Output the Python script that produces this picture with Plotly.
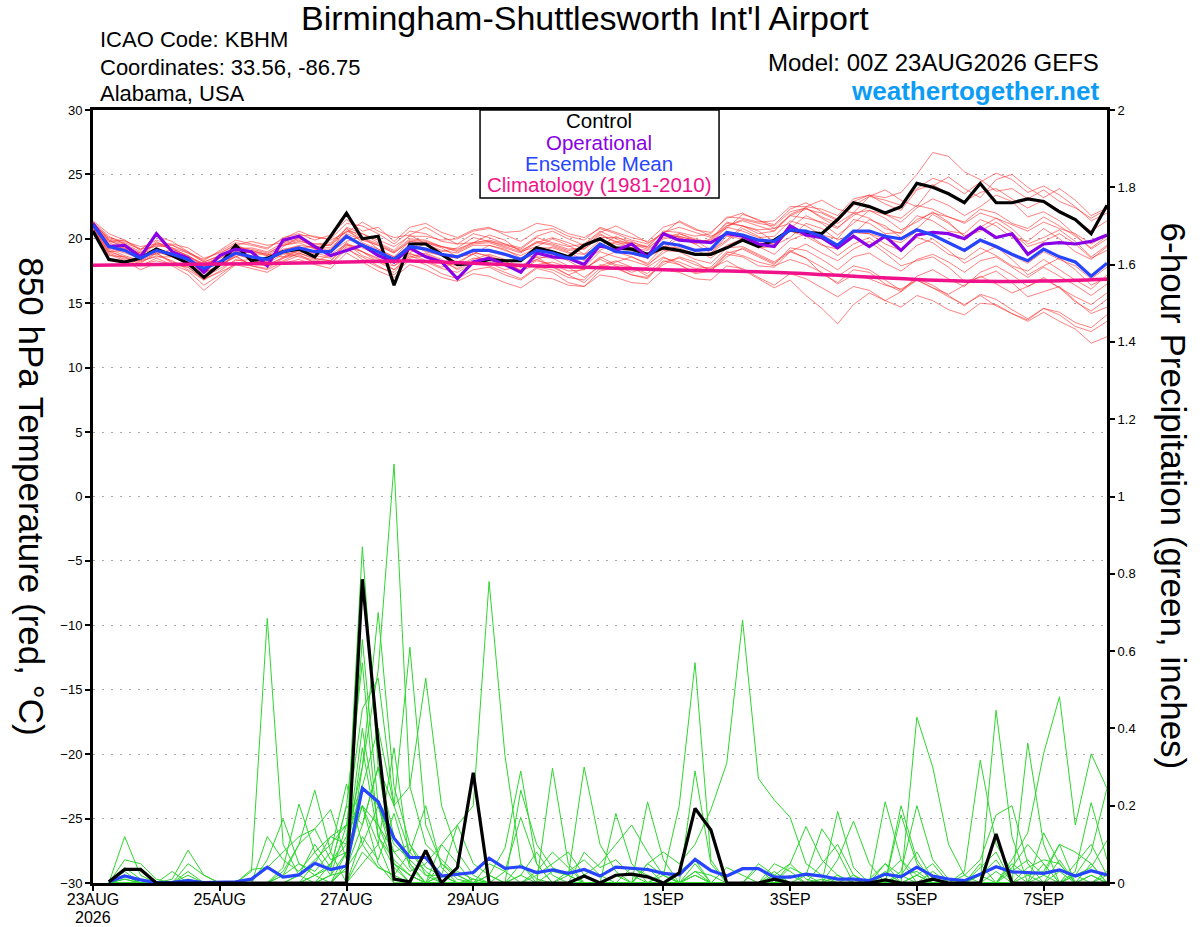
import plotly.graph_objects as go
import pandas as pd

# ---------------- time axes ----------------
times_t = pd.date_range("2026-08-23 00:00", periods=65, freq="6h")   # temperature (00Z .. +384h)
times_p = times_t[1:]                                                 # 6-h precipitation (06Z .. +384h)
clim_dates = pd.date_range("2026-08-23", periods=17, freq="D")

tick_dates = ["2026-08-23", "2026-08-25", "2026-08-27", "2026-08-29",
              "2026-09-01", "2026-09-03", "2026-09-05", "2026-09-07"]
tick_labels = ["23AUG", "25AUG", "27AUG", "29AUG", "1SEP", "3SEP", "5SEP", "7SEP"]
year_label = "2026"

# ---------------- 850 hPa temperature (deg C) ----------------
control_t = [20.6, 18.4, 18.2, 18.5, 19.2, 18.7, 18.1, 17.0, 18.0, 19.5, 18.3,
             18.5, 19.0, 19.2, 18.6, 20.2, 22.0, 20.0, 20.2, 16.4, 19.6,
             19.6, 18.8, 18.0, 18.1, 18.4, 18.3, 18.3, 19.3, 19.0, 18.6,
             19.5, 20.0, 19.3, 19.2, 18.8, 19.3, 19.1, 18.8, 18.8, 19.3,
             19.9, 19.4, 19.9, 20.7, 20.5, 20.4, 21.5, 22.8, 22.5, 22.0,
             22.5, 24.3, 24.0, 23.5, 22.8, 24.3, 22.8, 22.8, 23.1, 22.9,
             22.1, 21.5, 20.4, 22.6]

operational_t = [21.2, 19.4, 19.5, 18.6, 20.4, 19.0, 18.5, 17.4, 18.7, 19.2, 19.0,
                 17.9, 19.9, 20.2, 19.4, 18.7, 19.1, 19.5, 18.7, 18.2, 19.3,
                 18.6, 18.2, 16.9, 18.2, 18.5, 18.0, 17.4, 18.9, 18.6, 18.5,
                 18.0, 19.5, 19.1, 19.6, 18.6, 20.4, 19.9, 19.8, 19.7, 20.4,
                 20.2, 19.6, 19.4, 21.0, 20.3, 20.1, 19.3, 20.2, 19.4, 20.2,
                 19.1, 20.3, 20.5, 20.4, 20.0, 20.9, 20.1, 20.4, 18.8, 19.6,
                 19.7, 19.6, 19.8, 20.3]

mean_t = [21.1, 19.4, 19.1, 18.5, 19.1, 18.8, 18.4, 17.7, 18.2, 18.9, 18.6,
          18.4, 19.0, 19.3, 19.0, 19.0, 20.2, 19.5, 19.0, 18.4, 19.4,
          19.2, 18.8, 18.6, 19.1, 19.1, 18.8, 18.4, 19.1, 18.9, 18.5,
          18.5, 19.6, 19.0, 18.9, 18.6, 19.7, 19.5, 19.1, 19.2, 20.5,
          20.3, 19.9, 19.8, 20.7, 20.6, 20.2, 19.5, 20.6, 20.6, 20.2,
          20.0, 20.7, 20.3, 19.7, 19.1, 19.9, 19.4, 18.8, 18.3, 19.2,
          18.6, 18.2, 17.1, 18.1]

climatology_t = [17.95, 18.0, 18.05, 18.1, 18.2, 18.28, 18.1, 17.9, 17.75,
                 17.6, 17.5, 17.35, 17.1, 16.85, 16.7, 16.72, 16.86]

member_t01 = [21.0, 19.8, 19.5, 18.9, 19.6, 19.2, 18.7, 17.9, 18.6, 19.4, 19.0,
              18.8, 19.6, 19.9, 19.4, 19.5, 20.6, 20.0, 19.5, 18.9, 19.9,
              19.8, 19.4, 19.0, 19.6, 19.7, 19.3, 18.9, 19.7, 19.5, 19.1,
              19.2, 20.3, 19.8, 19.7, 19.4, 20.6, 20.5, 20.2, 20.4, 21.7,
              21.6, 21.3, 21.4, 22.5, 22.5, 22.3, 21.8, 23.1, 23.4, 23.2,
              23.6, 25.0, 26.7, 26.4, 25.2, 24.6, 23.7, 23.9, 23.1, 23.8,
              22.9, 22.4, 21.6, 22.3]
member_t02 = [20.8, 19.0, 18.6, 18.2, 18.7, 18.3, 17.6, 16.8, 17.5, 18.4, 18.1,
              17.9, 18.6, 18.9, 18.4, 18.3, 19.6, 19.0, 18.5, 17.6, 18.8,
              18.6, 18.2, 17.9, 18.5, 18.4, 18.0, 17.6, 18.3, 18.0, 17.5,
              17.6, 18.6, 18.0, 17.8, 17.3, 18.5, 18.2, 17.7, 17.8, 19.0,
              18.7, 18.2, 17.9, 18.4, 18.0, 17.4, 16.5, 17.2, 16.9, 16.4,
              16.1, 16.8, 16.2, 15.5, 14.9, 15.6, 14.8, 14.2, 13.6, 14.3,
              13.6, 13.0, 11.9, 12.4]
member_t03 = [21.3, 19.9, 19.6, 19.0, 19.5, 19.3, 18.9, 18.2, 18.7, 19.4, 19.2,
              18.9, 19.5, 19.8, 19.6, 19.7, 20.8, 20.1, 19.6, 19.0, 20.0,
              19.9, 19.4, 19.2, 19.7, 19.8, 19.4, 19.0, 19.8, 19.6, 19.2,
              19.3, 20.4, 19.7, 19.6, 19.2, 20.3, 20.2, 19.8, 19.9, 21.2,
              21.0, 20.7, 20.8, 21.8, 21.6, 21.3, 20.8, 22.0, 22.2, 21.9,
              21.6, 22.6, 22.3, 21.7, 21.2, 22.0, 21.6, 21.1, 20.6, 21.3,
              20.8, 20.4, 19.6, 20.3]
member_t04 = [20.9, 19.2, 18.7, 18.3, 18.9, 18.2, 17.9, 17.3, 18.0, 18.6, 18.0,
              18.3, 18.9, 18.6, 18.2, 18.8, 19.6, 18.7, 18.2, 17.9, 18.9,
              18.3, 17.8, 18.2, 18.8, 18.1, 17.6, 17.9, 18.6, 17.8, 17.2,
              17.7, 18.4, 17.9, 17.4, 17.8, 18.6, 18.0, 17.4, 17.7, 18.3,
              17.6, 16.9, 16.2, 16.8, 15.6, 14.6, 13.4, 14.9, 15.8, 15.2,
              15.9, 16.8, 16.2, 15.7, 16.4, 17.1, 16.5, 15.8, 16.3, 17.0,
              16.2, 15.5, 14.9, 15.8]
member_t05 = [21.2, 20.0, 19.7, 19.2, 19.9, 19.5, 18.9, 18.4, 19.0, 19.7, 19.5,
              19.2, 20.1, 20.4, 19.9, 20.3, 21.5, 20.6, 20.9, 19.8, 20.9,
              21.2, 20.5, 20.1, 20.7, 20.9, 20.3, 19.8, 20.6, 20.8, 20.2,
              19.9, 20.9, 20.5, 20.1, 19.8, 20.9, 21.3, 20.7, 20.5, 21.6,
              22.0, 21.4, 21.1, 22.3, 22.8, 22.1, 21.5, 22.9, 23.4, 22.7,
              22.2, 23.8, 24.2, 23.5, 22.9, 23.6, 23.9, 23.1, 22.4, 23.0,
              22.2, 21.5, 20.6, 21.4]
member_t06 = [20.7, 18.9, 18.4, 17.9, 18.5, 18.0, 17.5, 16.4, 17.2, 18.1, 17.9,
              17.6, 18.2, 18.7, 18.3, 18.0, 19.2, 18.6, 17.9, 17.2, 18.4,
              18.0, 17.3, 16.9, 17.6, 17.8, 17.2, 16.8, 17.7, 17.4, 16.6,
              16.3, 17.5, 17.8, 17.2, 16.9, 18.2, 18.5, 18.0, 17.6, 18.9,
              19.2, 18.6, 18.0, 19.3, 19.1, 18.4, 17.6, 18.6, 18.9, 18.1,
              17.5, 18.4, 18.8, 18.2, 17.4, 18.3, 18.6, 17.8, 17.0, 17.8,
              17.1, 16.4, 15.6, 16.5]
member_t07 = [21.0, 19.5, 19.3, 18.8, 18.8, 19.2, 18.7, 18.0, 17.9, 18.6, 19.1,
              18.8, 18.6, 19.2, 19.5, 19.0, 19.8, 20.2, 19.2, 18.6, 18.9,
              19.7, 19.3, 18.6, 18.8, 19.5, 19.2, 18.5, 18.7, 19.4, 19.0,
              18.3, 19.1, 19.8, 19.3, 18.6, 19.2, 20.1, 19.6, 18.9, 19.8,
              20.8, 20.2, 19.5, 20.1, 21.2, 20.8, 19.9, 20.4, 21.5, 21.0,
              20.1, 20.8, 21.9, 21.2, 20.2, 20.6, 21.3, 20.5, 19.4, 19.8,
              20.4, 19.6, 18.5, 19.1]
member_t08 = [21.1, 19.3, 18.9, 18.5, 19.0, 18.6, 18.1, 17.4, 17.9, 18.8, 18.4,
              18.1, 18.8, 19.0, 18.7, 18.5, 19.7, 19.0, 18.4, 18.2, 19.1,
              18.8, 18.3, 18.0, 18.9, 18.7, 18.2, 17.8, 18.6, 18.5, 17.9,
              17.8, 19.0, 18.6, 18.3, 17.9, 19.1, 19.0, 18.4, 18.1, 19.3,
              19.4, 18.8, 18.2, 19.1, 18.5, 17.8, 17.1, 17.9, 17.6, 16.8,
              16.0, 16.9, 16.4, 15.6, 14.8, 15.7, 15.3, 14.5, 13.8, 14.6,
              14.1, 13.2, 12.8, 13.6]
member_t09 = [21.3, 20.2, 19.6, 18.7, 19.8, 19.1, 18.3, 17.8, 18.8, 19.6, 18.9,
              18.2, 19.4, 20.1, 19.2, 19.0, 20.9, 20.4, 19.7, 19.1, 20.3,
              19.6, 19.0, 19.3, 20.1, 19.8, 19.5, 19.2, 20.1, 19.7, 19.4,
              19.6, 20.6, 20.0, 19.5, 19.4, 20.5, 20.1, 19.6, 20.0, 21.3,
              21.0, 20.4, 20.6, 21.9, 22.4, 21.6, 20.9, 21.8, 22.5, 21.9,
              21.3, 22.4, 23.1, 22.6, 21.8, 22.5, 23.4, 22.9, 21.7, 22.1,
              21.4, 20.3, 19.2, 20.0]
member_t10 = [20.8, 19.0, 19.1, 18.3, 18.6, 18.6, 18.2, 17.0, 17.7, 18.3, 18.4,
              18.0, 18.5, 19.1, 18.9, 18.6, 19.5, 19.4, 18.8, 17.9, 18.6,
              18.9, 18.4, 17.6, 18.2, 18.6, 18.3, 17.5, 18.0, 18.2, 17.8,
              17.0, 17.9, 18.3, 17.8, 17.1, 18.0, 18.6, 18.2, 17.5, 18.6,
              19.3, 18.7, 18.1, 19.0, 19.6, 18.9, 18.3, 19.2, 19.8, 18.9,
              17.9, 18.3, 18.6, 17.8, 16.7, 17.0, 17.5, 16.6, 15.5, 15.9,
              16.3, 15.2, 14.2, 14.7]
member_t11 = [21.4, 20.4, 19.9, 19.1, 20.2, 19.8, 19.0, 18.3, 19.1, 19.9, 19.6,
              19.3, 20.0, 20.6, 20.1, 20.0, 21.2, 21.0, 20.4, 19.6, 20.6,
              20.4, 19.8, 19.6, 20.4, 20.1, 19.6, 19.3, 20.2, 20.6, 20.0,
              19.5, 20.5, 21.0, 20.4, 19.7, 20.4, 21.4, 20.8, 20.2, 20.8,
              21.9, 21.5, 20.8, 21.2, 22.5, 23.0, 22.3, 22.0, 23.3, 23.8,
              23.0, 22.5, 24.1, 24.8, 23.9, 23.2, 24.6, 25.0, 24.0, 23.2,
              23.9, 23.0, 21.8, 22.4]
member_t12 = [21.0, 19.6, 19.0, 18.6, 19.3, 18.7, 18.5, 17.6, 18.3, 19.1, 18.5,
              18.5, 19.2, 19.4, 18.8, 19.2, 20.3, 19.3, 18.8, 18.5, 19.6,
              19.0, 18.7, 18.5, 19.0, 18.6, 18.0, 17.8, 18.4, 17.9, 17.2,
              16.6, 17.7, 18.2, 18.6, 18.1, 19.4, 19.3, 18.8, 18.9, 20.2,
              20.0, 19.3, 19.4, 20.6, 20.2, 19.5, 19.2, 20.5, 20.4, 19.6,
              19.1, 20.1, 19.7, 18.8, 18.4, 19.3, 18.7, 17.9, 17.5, 18.4,
              17.6, 16.8, 16.1, 17.2]
member_t13 = [21.2, 20.1, 19.8, 19.4, 19.6, 19.6, 19.3, 18.5, 18.9, 19.5, 19.8,
              19.5, 19.7, 20.3, 20.2, 19.9, 20.5, 21.3, 20.6, 20.1, 20.3,
              20.9, 20.2, 19.6, 19.7, 20.3, 19.9, 19.0, 19.4, 20.0, 19.5,
              18.8, 19.4, 20.2, 19.6, 18.8, 19.3, 20.4, 19.9, 19.1, 19.9,
              21.0, 20.6, 19.8, 20.8, 21.8, 21.2, 20.3, 21.2, 22.2, 21.6,
              20.7, 21.3, 22.1, 21.3, 20.2, 20.9, 21.6, 20.8, 19.6, 20.1,
              20.7, 19.8, 18.6, 19.5]
member_t14 = [20.6, 18.7, 18.6, 18.0, 18.3, 18.0, 17.8, 16.9, 17.4, 18.0, 17.7,
              17.4, 18.1, 18.4, 18.0, 17.7, 18.9, 18.2, 17.5, 17.0, 18.0,
              17.6, 17.0, 16.7, 17.3, 17.1, 16.6, 16.2, 17.0, 16.9, 16.4,
              16.3, 17.2, 17.0, 16.6, 16.5, 17.6, 17.4, 16.9, 16.8, 17.9,
              17.7, 17.0, 16.4, 17.3, 16.9, 16.2, 15.5, 16.3, 16.0, 15.2,
              14.7, 15.6, 15.2, 14.5, 14.1, 15.0, 14.9, 14.2, 13.7, 14.6,
              14.3, 13.5, 13.1, 14.1]
member_t15 = [21.1, 19.4, 19.2, 18.4, 19.0, 18.9, 18.3, 17.6, 18.3, 18.9, 18.7,
              18.3, 18.9, 19.3, 19.0, 18.9, 20.2, 19.6, 18.9, 18.3, 19.4,
              19.1, 18.7, 18.5, 19.1, 19.0, 18.7, 18.4, 19.1, 18.9, 18.6,
              18.5, 19.6, 19.1, 18.8, 18.5, 19.6, 19.5, 19.1, 19.2, 20.4,
              20.2, 19.8, 19.6, 20.6, 20.4, 20.0, 19.4, 20.5, 20.4, 20.0,
              19.7, 20.6, 20.3, 19.7, 19.0, 19.8, 19.3, 18.7, 18.1, 19.0,
              18.4, 17.9, 16.9, 17.8]
member_t16 = [21.0, 19.7, 19.2, 18.9, 19.2, 18.9, 18.6, 18.1, 18.5, 19.0, 18.9,
              18.7, 19.1, 19.5, 19.3, 19.3, 20.4, 19.9, 19.5, 18.9, 19.8,
              19.6, 19.1, 18.9, 19.5, 19.5, 19.1, 18.7, 19.3, 19.3, 18.9,
              18.8, 19.9, 19.6, 19.3, 19.1, 20.0, 20.2, 19.9, 19.8, 21.0,
              21.4, 21.0, 20.6, 21.8, 22.3, 22.0, 21.4, 22.6, 23.3, 23.0,
              22.6, 23.9, 24.7, 24.3, 23.5, 24.4, 25.1, 24.6, 23.6, 24.1,
              23.4, 22.5, 21.4, 22.0]
member_t17 = [20.9, 19.1, 18.5, 18.1, 18.9, 18.1, 17.8, 16.8, 17.9, 18.7, 17.9,
              17.7, 18.5, 18.8, 18.1, 18.1, 19.3, 18.4, 17.8, 17.4, 18.7,
              18.2, 17.7, 17.4, 18.1, 17.9, 17.4, 16.9, 17.8, 17.6, 17.0,
              16.8, 18.0, 17.7, 17.2, 17.0, 18.3, 18.0, 17.3, 17.5, 18.8,
              18.6, 17.9, 17.8, 19.0, 18.5, 17.3, 16.6, 17.6, 17.4, 16.5,
              15.9, 17.1, 17.6, 16.9, 16.3, 17.4, 17.9, 17.2, 16.3, 16.9,
              16.2, 15.1, 14.4, 15.3]
member_t18 = [21.3, 19.9, 19.3, 18.6, 19.7, 19.3, 18.6, 17.9, 18.5, 19.3, 19.1,
              18.7, 19.5, 19.7, 19.2, 19.6, 20.8, 19.7, 19.2, 18.6, 19.8,
              19.7, 19.4, 19.1, 19.7, 19.9, 19.6, 19.1, 19.7, 20.1, 19.7,
              19.2, 20.1, 20.1, 19.8, 19.3, 20.1, 20.4, 20.0, 19.7, 20.9,
              20.6, 20.1, 20.2, 21.4, 21.0, 20.3, 20.0, 21.5, 21.2, 20.4,
              20.5, 21.8, 21.4, 20.6, 20.4, 21.5, 21.0, 20.1, 19.8, 20.8,
              20.0, 19.0, 18.4, 19.4]
member_t19 = [20.7, 18.8, 18.3, 17.6, 18.1, 17.9, 17.2, 16.0, 17.0, 18.0, 18.2,
              17.9, 18.3, 18.9, 18.5, 18.3, 19.4, 19.0, 18.2, 17.6, 18.5,
              18.7, 18.2, 17.7, 18.4, 18.8, 18.4, 17.8, 18.4, 18.8, 18.3,
              17.6, 18.5, 19.0, 18.6, 18.0, 18.9, 19.6, 19.2, 18.5, 19.5,
              20.0, 19.4, 18.8, 19.9, 20.4, 19.6, 18.7, 19.6, 20.1, 19.2,
              18.4, 19.5, 20.0, 19.1, 18.1, 18.8, 19.4, 18.4, 17.2, 17.9,
              18.5, 17.6, 16.4, 17.0]
member_t20 = [21.2, 19.8, 19.9, 19.2, 19.4, 19.5, 19.0, 18.2, 18.7, 19.2, 19.3,
              19.0, 19.7, 20.0, 19.6, 19.5, 20.6, 20.4, 19.9, 19.4, 20.2,
              20.2, 19.9, 20.0, 20.6, 20.8, 20.5, 20.6, 21.2, 21.0, 20.4,
              20.1, 20.8, 20.4, 19.9, 19.6, 20.5, 20.9, 20.5, 20.1, 21.0,
              21.5, 21.2, 21.0, 22.1, 22.4, 21.7, 21.2, 22.0, 21.6, 20.8,
              20.4, 21.5, 22.0, 21.7, 21.3, 22.3, 22.0, 21.2, 20.8, 21.7,
              21.0, 20.2, 19.3, 20.2]

members_t = [member_t01, member_t02, member_t03, member_t04, member_t05,
             member_t06, member_t07, member_t08, member_t09, member_t10,
             member_t11, member_t12, member_t13, member_t14, member_t15,
             member_t16, member_t17, member_t18, member_t19, member_t20]

# ---------------- 6-hour precipitation (inches) ----------------
control_p = [.003, .035, .035, 0, 0, 0, 0, 0,
             0, 0, 0, 0, 0, 0, 0, 0,
             .786, .36, .01, .003, .084, 0, .04, .285,
             0, 0, 0, 0, 0, 0, .018, 0,
             .02, .023, .016, 0, .026, .193, .137, 0,
             0, 0, .01, 0, 0, 0, 0, 0,
             0, .008, 0, 0, .01, 0, 0, 0,
             .127, 0, 0, 0, 0, 0, 0, 0]

mean_p = [.003, .018, .008, .001, .002, .006, .001, .001,
          .003, .01, .041, .015, .021, .051, .035, .044,
          .245, .21, .116, .066, .066, .018, .023, .027,
          .064, .038, .042, .027, .034, .025, .035, .018,
          .041, .037, .035, .025, .021, .061, .032, .018,
          .037, .037, .015, .015, .023, .018, .01, .01,
          .006, .023, .016, .041, .018, .01, .006, .023,
          .042, .029, .027, .025, .034, .018, .032, .021]

member_p01 = [0, .12, .02, 0, 0, 0, 0, 0,   0, 0, 0, 0, 0, .02, .05, .1,
              .87, .3, .05, .02, 0, 0, .03, .01,   0, 0, .05, .01, 0, 0, 0, 0,
              0, 0, 0, .02, 0, .05, 0, 0,   0, 0, 0, 0, 0, .01, 0, 0,
              0, 0, .02, .08, .01, 0, 0, 0,   0, 0, .02, .03, .1, 0, 0, 0]
member_p02 = [0, .06, .05, .01, 0, 0, 0, 0,   0, 0, 0, .03, .1, .14, .06, .08,
              .63, .2, .08, .1, .02, 0, 0, 0,   .02, .09, .29, .05, 0, 0, 0, 0,
              0, 0, 0, 0, 0, .03, 0, 0,   0, 0, .02, .05, .01, 0, 0, 0,
              0, 0, 0, 0, 0, 0, .02, .06,   .176, .2, .05, 0, 0, .02, .04, .11]
member_p03 = [0, .04, .01, 0, 0, 0, 0, 0,   0, 0, 0, 0, 0, .02, .04, .2,
              .57, .12, .04, 0, 0, .02, 0, 0,   0, 0, 0, 0, 0, .03, .06, .02,
              0, 0, .05, .08, .05, .1, .19, .31,   .68, .27, .215, .17, .05, .02, 0, 0,
              0, 0, 0, .02, 0, 0, 0, 0,   0, .03, .06, .02, 0, 0, 0, .02]
member_p04 = [0, .02, 0, 0, .01, .085, .02, 0,   0, 0, 0, 0, 0, 0, .05, .12,
              .3, .70, .25, .1, .04, .02, 0, 0,   0, 0, 0, .03, .08, .04, 0, 0,
              0, 0, 0, 0, 0, .02, 0, 0,   0, 0, 0, .05, .146, .06, .02, 0,
              0, 0, .03, .2, .06, .01, 0, 0,   0, 0, .04, .06, .05, 0, .02, 0]
member_p05 = [0, 0, 0, 0, 0, .05, .02, 0,   0, 0, 0, 0, .02, .06, .1, .15,
              .45, .53, .2, .08, .03, 0, 0, 0,   0, 0, 0, 0, 0, 0, .02, .05,
              .1, .15, .08, .02, .2, .57, .06, 0,   0, 0, 0, 0, 0, 0, 0, 0,
              .01, .05, .02, 0, 0, 0, 0, .04,   .08, 0, 0, 0, 0, .03, .208, .06]
member_p06 = [0, 0, 0, 0, 0, .03, 0, 0,   0, 0, 0, 0, 0, 0, .02, .03,
              .3, .55, 1.084, .25, .1, .06, .02, 0,   0, 0, 0, 0, 0, 0, 0, 0,
              .02, 0, 0, 0, 0, 0, 0, 0,   0, .04, 0, 0, 0, 0, .06, .16,
              .05, 0, 0, 0, 0, 0, .03, .318,   .1, .03, 0, .02, .1, .08, .05, 0]
member_p07 = [0, 0, 0, 0, 0, 0, 0, 0,   0, .03, .685, .1, .02, 0, 0, .05,
              .2, .1, .35, .05, 0, 0, 0, 0,   0, 0, .02, 0, 0, .02, .3, .1,
              .03, 0, 0, 0, 0, 0, 0, 0,   0, 0, 0, 0, .02, .14, .08, 0,
              0, .21, .06, 0, 0, 0, 0, 0,   0, 0, .362, .1, 0, 0, 0, 0]
member_p08 = [0, 0, 0, 0, 0, 0, 0, 0,   0, 0, .12, .06, .03, .08, .12, .1,
              .25, .4, .2, .61, .15, .05, .01, 0,   0, .03, .17, .05, 0, 0, 0, 0,
              0, 0, .21, .06, 0, 0, 0, 0,   0, 0, 0, 0, 0, 0, .185, .04,
              0, 0, .02, .03, 0, 0, 0, 0,   0, 0, 0, .13, .05, 0, 0, 0]
member_p09 = [0, .01, 0, 0, 0, 0, 0, 0,   0, 0, .06, .165, .05, .02, 0, .04,
              .15, .3, .2, .25, .53, .2, .08, .02,   0, 0, 0, 0, .297, .05, 0, 0,
              0, 0, 0, 0, 0, .03, .02, 0,   0, 0, .05, .03, 0, 0, 0, 0,
              0, 0, 0, .429, .30, .1, .02, 0,   0, 0, 0, 0, 0, .02, .08, .245]
member_p10 = [0, 0, 0, 0, 0, 0, 0, 0,   0, 0, 0, .04, .204, .08, .02, .08,
              .2, .15, .08, .03, .05, .1, .15, .2,   .78, .33, .05, 0, 0, 0, 0, 0,
              0, 0, 0, 0, 0, 0, 0, 0,   0, 0, 0, .02, 0, 0, 0, 0,
              0, 0, 0, 0, 0, 0, 0, 0,   .447, .12, 0, 0, 0, 0, .02, 0]
member_p11 = [0, 0, 0, 0, .03, 0, 0, 0,   0, 0, 0, .02, .1, .24, .08, .256,
              .1, .04, .02, .08, .2, .04, 0, 0,   .02, 0, 0, .02, .05, .08, .02, 0,
              .18, .05, 0, 0, 0, 0, 0, 0,   0, 0, 0, 0, 0, 0, 0, 0,
              0, 0, .176, .05, 0, 0, 0, .02,   0, .06, .13, .335, .482, .15, .334, .245]
member_p12 = [0, .02, 0, 0, 0, .02, 0, 0,   0, .035, .04, .08, .12, .14, .19, .06,
              .35, .12, .06, .02, 0, .1, .05, 0,   0, 0, 0, 0, .03, .02, 0, 0,
              0, .04, .02, 0, 0, .29, .05, 0,   0, 0, 0, 0, 0, 0, 0, .02,
              0, .05, 0, 0, 0, 0, 0, 0,   0, 0, 0, 0, .03, 0, 0, 0]
member_p13 = [0, 0, 0, 0, 0, 0, 0, 0,   0, 0, 0, 0, 0, .05, .12, .15,
              .25, .2, .1, .06, .02, .02, .15, .05,   .02, 0, .24, .1, .04, .02, 0, 0,
              0, 0, 0, 0, 0, 0, 0, 0,   0, 0, 0, 0, 0, 0, .02, 0,
              0, 0, .2, .06, 0, 0, 0, 0,   0, 0, 0, 0, 0, 0, 0, 0]
member_p14 = [0, .03, 0, 0, 0, 0, 0, 0,   0, 0, 0, 0, .02, .1, .04, .2,
              .15, .3, .12, .05, 0, 0, 0, .01,   0, 0, 0, 0, 0, 0, 0, 0,
              0, 0, 0, .03, 0, 0, 0, 0,   0, 0, 0, 0, 0, 0, 0, 0,
              0, 0, 0, 0, .03, 0, 0, .05,   0, 0, 0, .05, 0, 0, 0, 0]
member_p15 = [0, 0, 0, 0, 0, 0, 0, 0,   0, 0, 0, 0, 0, 0, .02, .15,
              .2, .05, 0, 0, 0, 0, 0, 0,   0, 0, .02, .08, .02, 0, 0, 0,
              0, 0, 0, 0, 0, 0, 0, 0,   0, .05, .02, 0, 0, 0, 0, 0,
              0, 0, 0, 0, 0, 0, 0, 0,   0, .04, .1, .05, 0, .02, 0, 0]
member_p16 = [0, 0, 0, 0, 0, 0, 0, 0,   0, 0, 0, 0, 0, 0, 0, 0,
              .08, .04, .02, 0, 0, .02, 0, 0,   .05, .03, 0, 0, 0, 0, 0, 0,
              0, 0, .05, .02, 0, 0, 0, 0,   0, 0, 0, 0, 0, 0, 0, 0,
              0, 0, 0, 0, .01, 0, 0, 0,   0, 0, 0, 0, 0, .05, .1, .02]
member_p17 = [0, .02, 0, 0, 0, 0, 0, 0,   0, 0, 0, .02, .05, .03, .08, 0,
              .12, .06, .18, .04, 0, 0, 0, 0,   0, 0, 0, 0, 0, 0, .08, .04,
              .06, .02, 0, 0, 0, .02, 0, .04,   .02, 0, .03, 0, 0, 0, 0, 0,
              0, .02, .06, .02, 0, 0, 0, 0,   .03, 0, 0, 0, .06, 0, 0, 0]
member_p18 = [0, 0, 0, 0, 0, 0, 0, 0,   0, 0, 0, 0, 0, 0, 0, .04,
              .1, .2, .05, .02, 0, .05, .02, 0,   0, 0, 0, 0, 0, 0, 0, 0,
              0, 0, 0, 0, 0, 0, 0, 0,   0, 0, 0, .04, .02, 0, 0, 0,
              0, 0, 0, 0, 0, 0, 0, 0,   0, .05, .02, 0, 0, 0, 0, .03]
member_p19 = [0, 0, 0, 0, 0, 0, 0, 0,   0, 0, 0, 0, 0, 0, 0, 0,
              .05, .1, 0, 0, 0, 0, 0, 0,   0, 0, 0, 0, 0, 0, 0, 0,
              0, 0, .04, 0, 0, 0, 0, 0,   0, 0, 0, 0, 0, 0, 0, 0,
              0, .03, 0, 0, 0, 0, 0, 0,   0, 0, 0, 0, 0, 0, 0, 0]
member_p20 = [0, .01, 0, 0, 0, .01, 0, 0,   0, 0, 0, 0, 0, 0, 0, .08,
              .4, .15, .05, 0, 0, 0, 0, 0,   0, 0, 0, 0, 0, 0, 0, 0,
              0, 0, 0, 0, .03, .06, 0, 0,   0, 0, 0, 0, 0, .05, .1, .02,
              0, 0, 0, .02, .05, 0, 0, .02,   .06, 0, 0, 0, 0, 0, .05, 0]

members_p = [member_p01, member_p02, member_p03, member_p04, member_p05,
             member_p06, member_p07, member_p08, member_p09, member_p10,
             member_p11, member_p12, member_p13, member_p14, member_p15,
             member_p16, member_p17, member_p18, member_p19, member_p20]

# ---------------- styles ----------------
RED = "rgba(255,45,45,0.6)"
GREEN = "#2ed62e"
PURPLE = "#8a00e6"
BLUE = "#2744ff"
MAGENTA = "#f0128a"
FONT = "Liberation Sans, Arial, Helvetica, sans-serif"

fig = go.Figure()

for m in members_p:
    fig.add_trace(go.Scatter(x=times_p, y=m, yaxis="y2", mode="lines",
                             line=dict(color=GREEN, width=1), hoverinfo="skip"))
for m in members_t:
    fig.add_trace(go.Scatter(x=times_t, y=m, mode="lines",
                             line=dict(color=RED, width=1), hoverinfo="skip"))

fig.add_trace(go.Scatter(x=times_p, y=mean_p, yaxis="y2", mode="lines",
                         line=dict(color=BLUE, width=3.2)))
fig.add_trace(go.Scatter(x=times_p, y=control_p, yaxis="y2", mode="lines",
                         line=dict(color="black", width=3.2)))

fig.add_trace(go.Scatter(x=times_t, y=control_t, mode="lines",
                         line=dict(color="black", width=3.2)))
fig.add_trace(go.Scatter(x=times_t, y=operational_t, mode="lines",
                         line=dict(color=PURPLE, width=3.2)))
fig.add_trace(go.Scatter(x=times_t, y=mean_t, mode="lines",
                         line=dict(color=BLUE, width=3.2)))
fig.add_trace(go.Scatter(x=clim_dates, y=climatology_t, mode="lines",
                         line=dict(color=MAGENTA, width=3.5, shape="spline")))

fig.update_layout(
    width=1200, height=927,
    margin=dict(l=93, r=93, t=110, b=44, autoexpand=False),
    paper_bgcolor="white", plot_bgcolor="white",
    showlegend=False,
    font=dict(family=FONT, color="black"),
    xaxis=dict(
        type="date", range=[times_t[0], times_t[-1]],
        tickvals=tick_dates, ticktext=tick_labels,
        ticks="outside", ticklen=5, tickwidth=1.5, tickcolor="black",
        ticklabelstandoff=-5,
        showline=True, linewidth=3, linecolor="black", mirror=True,
        showgrid=False, zeroline=False, automargin=False,
        tickfont=dict(size=16, family=FONT),
    ),
    yaxis=dict(
        range=[-30, 30], tick0=-30, dtick=5,
        ticks="outside", ticklen=5, tickwidth=1.5, tickcolor="black",
        showline=True, linewidth=3, linecolor="black", mirror=True,
        showgrid=True, gridcolor="#a8a8a8", gridwidth=1, griddash="2px,7px",
        zeroline=False, automargin=False,
        tickfont=dict(size=13, family=FONT),
    ),
    yaxis2=dict(
        range=[0, 2], tick0=0, dtick=0.2, overlaying="y", side="right", anchor="x",
        ticks="outside", ticklen=5, tickwidth=1.5, tickcolor="black",
        showline=True, linewidth=3, linecolor="black",
        showgrid=False, zeroline=False, automargin=False,
        tickfont=dict(size=13, family=FONT),
    ),
)

# year under the first date tick
fig.add_annotation(text=year_label, x=0.0, y=-0.0445, xref="paper", yref="paper",
                   xanchor="center", yanchor="middle", showarrow=False,
                   font=dict(size=16, family=FONT))

# legend box
fig.add_shape(type="rect", xref="paper", yref="paper",
              x0=0.3817, x1=0.6174, y0=0.886, y1=1.0,
              fillcolor="white", line=dict(color="black", width=1.5), layer="above")
legend_items = [("Control", "black", 0.9858),
                ("Operational", PURPLE, 0.9586),
                ("Ensemble Mean", BLUE, 0.9314),
                ("Climatology (1981-2010)", MAGENTA, 0.903)]
for txt, col, yy in legend_items:
    fig.add_annotation(text=txt, x=0.4995, y=yy, xref="paper", yref="paper",
                       xanchor="center", yanchor="middle", showarrow=False,
                       font=dict(size=20.5, color=col, family=FONT))

# header texts
fig.add_annotation(text="Birmingham-Shuttlesworth Int'l Airport", x=0.485, y=1.119,
                   xref="paper", yref="paper", xanchor="center", yanchor="middle",
                   showarrow=False, font=dict(size=34, family=FONT))
for txt, yy in [("ICAO Code: KBHM", 1.0906), ("Coordinates: 33.56, -86.75", 1.0556),
                ("Alabama, USA", 1.0207)]:
    fig.add_annotation(text=txt, x=0.005, y=yy, xref="paper", yref="paper",
                       xanchor="left", yanchor="middle", showarrow=False,
                       font=dict(size=22, family=FONT))
fig.add_annotation(text="Model: 00Z 23AUG2026 GEFS", x=0.994, y=1.062,
                   xref="paper", yref="paper", xanchor="right", yanchor="middle",
                   showarrow=False, font=dict(size=24, family=FONT))
fig.add_annotation(text="<b>weathertogether.net</b>", x=0.994, y=1.025,
                   xref="paper", yref="paper", xanchor="right", yanchor="middle",
                   showarrow=False, font=dict(size=26, family=FONT, color="#0d9cf5"))

# axis titles (both read top-to-bottom)
fig.add_annotation(text="850 hPa Temperature (red, °C)", x=-0.061, y=0.5,
                   xref="paper", yref="paper", xanchor="center", yanchor="middle",
                   textangle=90, showarrow=False, font=dict(size=35, family=FONT))
fig.add_annotation(text="6-hour Precipitation (green, inches)", x=1.066, y=0.5,
                   xref="paper", yref="paper", xanchor="center", yanchor="middle",
                   textangle=90, showarrow=False, font=dict(size=35, family=FONT))

fig.write_html("out.html", config={"displayModeBar": False},
               post_script="document.body.style.margin='0px';document.body.style.overflow='hidden';")
